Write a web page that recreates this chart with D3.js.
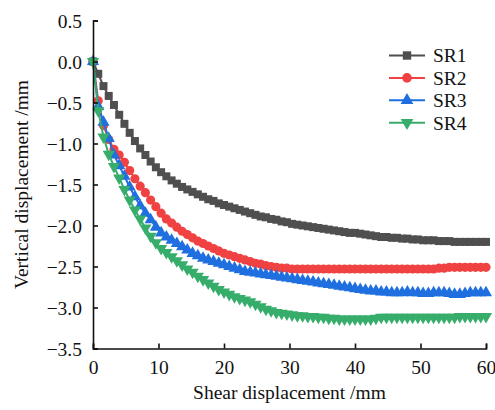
<!DOCTYPE html>
<html>
<head>
<meta charset="utf-8">
<script src="https://cdn.jsdelivr.net/npm/d3@7"></script>
<style>
  html, body { margin: 0; padding: 0; background: #fff; }
  svg { display: block; }
  svg text { font-family: "Liberation Serif", "Times New Roman", Tinos, "DejaVu Serif", serif; fill: #111; }
</style>
</head>
<body>
<svg id="chart" width="495" height="410"></svg>
<script>
// Shear displacement (mm) sampled every 0.8 mm
const shear = [
  0.0, 0.8, 1.6, 2.4, 3.2, 4.0, 4.8, 5.6, 6.4, 7.2,
  8.0, 8.8, 9.6, 10.4, 11.2, 12.0, 12.8, 13.6, 14.4, 15.2,
  16.0, 16.8, 17.6, 18.4, 19.2, 20.0, 20.8, 21.6, 22.4, 23.2,
  24.0, 24.8, 25.6, 26.4, 27.2, 28.0, 28.8, 29.6, 30.4, 31.2,
  32.0, 32.8, 33.6, 34.4, 35.2, 36.0, 36.8, 37.6, 38.4, 39.2,
  40.0, 40.8, 41.6, 42.4, 43.2, 44.0, 44.8, 45.6, 46.4, 47.2,
  48.0, 48.8, 49.6, 50.4, 51.2, 52.0, 52.8, 53.6, 54.4, 55.2,
  56.0, 56.8, 57.6, 58.4, 59.2, 60.0
];

// Vertical displacement (mm) for each specimen
const sr1 = [
  0, -0.15, -0.30, -0.42, -0.53, -0.65, -0.76, -0.87, -0.97, -1.06,
  -1.14, -1.22, -1.29, -1.35, -1.40, -1.45, -1.49, -1.53, -1.56, -1.59,
  -1.62, -1.65, -1.68, -1.70, -1.73, -1.75, -1.77, -1.79, -1.81, -1.83,
  -1.85, -1.87, -1.89, -1.90, -1.92, -1.93, -1.95, -1.96, -1.98, -1.99,
  -2.00, -2.01, -2.02, -2.03, -2.04, -2.05, -2.06, -2.07, -2.08, -2.09,
  -2.09, -2.10, -2.11, -2.12, -2.13, -2.14, -2.14, -2.15, -2.15, -2.16,
  -2.16, -2.17, -2.17, -2.18, -2.18, -2.18, -2.19, -2.19, -2.19, -2.20,
  -2.20, -2.20, -2.20, -2.20, -2.20, -2.20
];
const sr2 = [
  0, -0.48, -0.78, -0.95, -1.07, -1.14, -1.23, -1.33, -1.43, -1.52,
  -1.60, -1.69, -1.77, -1.85, -1.92, -1.97, -2.02, -2.07, -2.11, -2.15,
  -2.19, -2.22, -2.25, -2.28, -2.31, -2.34, -2.36, -2.38, -2.40, -2.42,
  -2.44, -2.46, -2.47, -2.49, -2.50, -2.51, -2.52, -2.52, -2.53, -2.53,
  -2.53, -2.53, -2.53, -2.53, -2.53, -2.53, -2.53, -2.53, -2.53, -2.53,
  -2.53, -2.53, -2.53, -2.53, -2.53, -2.53, -2.53, -2.53, -2.53, -2.53,
  -2.53, -2.53, -2.53, -2.53, -2.53, -2.53, -2.52, -2.52, -2.51, -2.51,
  -2.51, -2.51, -2.51, -2.51, -2.51, -2.51
];
const sr3 = [
  0, -0.55, -0.74, -0.94, -1.14, -1.27, -1.40, -1.53, -1.65, -1.76,
  -1.85, -1.93, -2.02, -2.09, -2.14, -2.18, -2.22, -2.26, -2.30, -2.34,
  -2.37, -2.40, -2.42, -2.44, -2.46, -2.48, -2.50, -2.52, -2.54, -2.56,
  -2.57, -2.58, -2.59, -2.60, -2.61, -2.62, -2.63, -2.64, -2.65, -2.66,
  -2.67, -2.68, -2.69, -2.70, -2.71, -2.72, -2.73, -2.74, -2.75, -2.76,
  -2.77, -2.78, -2.79, -2.80, -2.80, -2.81, -2.81, -2.82, -2.82, -2.82,
  -2.81, -2.82, -2.82, -2.83, -2.83, -2.82, -2.82, -2.82, -2.83, -2.84,
  -2.84, -2.83, -2.82, -2.82, -2.82, -2.82
];
const sr4 = [
  0, -0.60, -0.92, -1.13, -1.28, -1.42, -1.56, -1.69, -1.81, -1.92,
  -2.03, -2.13, -2.21, -2.28, -2.33, -2.38, -2.43, -2.48, -2.53, -2.57,
  -2.62, -2.66, -2.70, -2.74, -2.78, -2.81, -2.84, -2.87, -2.89, -2.91,
  -2.93, -2.96, -2.99, -3.02, -3.04, -3.06, -3.07, -3.08, -3.09, -3.10,
  -3.10, -3.11, -3.11, -3.12, -3.12, -3.13, -3.13, -3.14, -3.14, -3.14,
  -3.14, -3.14, -3.14, -3.14, -3.13, -3.12, -3.12, -3.12, -3.12, -3.12,
  -3.12, -3.12, -3.12, -3.12, -3.12, -3.12, -3.12, -3.12, -3.12, -3.12,
  -3.11, -3.11, -3.11, -3.11, -3.11, -3.11
];

const seriesNames = ["SR1", "SR2", "SR3", "SR4"];
const seriesValues = [sr1, sr2, sr3, sr4];
const seriesColors = ["#4f4f4f", "#f04242", "#1f6fe0", "#36ad6a"];
const seriesSymbols = [d3.symbolSquare, d3.symbolCircle, d3.symbolTriangle, d3.symbolTriangle];
const seriesRotate = [0, 0, 0, 180];
const seriesSymbolSize = [64, 66, 64, 64];

const xTicks = [0, 10, 20, 30, 40, 50, 60];
const yTicks = [0.5, 0.0, -0.5, -1.0, -1.5, -2.0, -2.5, -3.0, -3.5];

const svg = d3.select("#chart");
const margin = { left: 93, right: 9, top: 20.5, bottom: 61.5 };
const W = 495, H = 410;

const x = d3.scaleLinear().domain([0, 60]).range([margin.left, W - margin.right]);
const y = d3.scaleLinear().domain([-3.5, 0.5]).range([H - margin.bottom, margin.top]);

const fontSize = 19.5;
const serif = "'Liberation Serif', 'Times New Roman', Tinos, 'DejaVu Serif', serif";

// Series lines and markers
const line = d3.line().x((d, i) => x(shear[i])).y(d => y(d));
seriesValues.forEach((vals, k) => {
  const g = svg.append("g");
  g.append("path")
    .datum(vals)
    .attr("d", line)
    .attr("fill", "none")
    .attr("stroke", seriesColors[k])
    .attr("stroke-width", 2);
  const sym = d3.symbol().type(seriesSymbols[k]).size(seriesSymbolSize[k]);
  g.selectAll("path.m")
    .data(vals)
    .join("path")
    .attr("class", "m")
    .attr("d", sym)
    .attr("fill", seriesColors[k])
    .attr("transform", (d, i) => `translate(${x(shear[i])},${y(d)}) rotate(${seriesRotate[k]})`);
});

// Axes with inward ticks
const xAxis = d3.axisBottom(x).tickValues(xTicks).tickSize(-5).tickPadding(12)
  .tickFormat(d3.format("d"));
const gx = svg.append("g").attr("transform", `translate(0,${y(-3.5)})`).call(xAxis);
const yAxis = d3.axisLeft(y).tickValues(yTicks).tickSize(-5).tickPadding(11)
  .tickFormat(d => d3.format(".1f")(d).replace("-", "\u2212"));
const gy = svg.append("g").attr("transform", `translate(${x(0)},0)`).call(yAxis);

[gx, gy].forEach(g => {
  g.attr("font-family", serif).attr("font-size", fontSize);
  g.select(".domain").attr("stroke", "#111").attr("stroke-width", 1.6);
  g.selectAll(".tick line").attr("stroke", "#111").attr("stroke-width", 1.6);
  g.selectAll(".tick text").attr("fill", "#111");
});
gy.selectAll(".tick text").attr("dy", "0.34em");

// Axis titles
svg.append("text")
  .attr("x", x(30))
  .attr("y", 399)
  .attr("text-anchor", "middle")
  .attr("font-size", fontSize)
  .text("Shear displacement /mm");

svg.append("text")
  .attr("transform", `translate(28,${y(-1.5)}) rotate(-90)`)
  .attr("text-anchor", "middle")
  .attr("font-size", fontSize)
  .text("Vertical displacement /mm");

// Legend
const legend = svg.append("g");
seriesNames.forEach((name, k) => {
  const ly = 55.5 + k * 22.4;
  legend.append("line")
    .attr("x1", 389).attr("x2", 425)
    .attr("y1", ly).attr("y2", ly)
    .attr("stroke", seriesColors[k]).attr("stroke-width", 2);
  legend.append("path")
    .attr("d", d3.symbol().type(seriesSymbols[k]).size(seriesSymbolSize[k] * 1.1)())
    .attr("fill", seriesColors[k])
    .attr("transform", `translate(407,${ly}) rotate(${seriesRotate[k]})`);
  legend.append("text")
    .attr("x", 433)
    .attr("y", ly)
    .attr("dy", "0.35em")
    .attr("font-size", fontSize)
    .text(name);
});
</script>
</body>
</html>
